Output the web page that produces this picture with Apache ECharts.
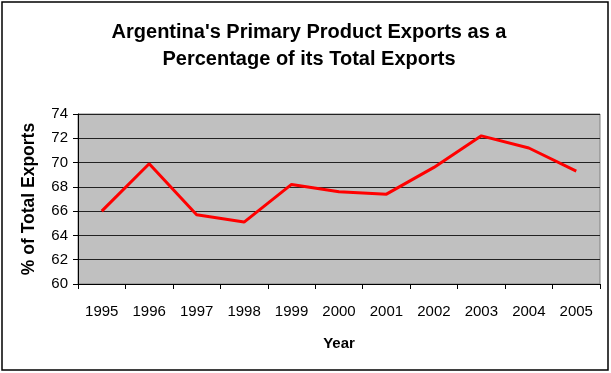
<!DOCTYPE html>
<html>
<head>
<meta charset="utf-8">
<script src="https://cdn.jsdelivr.net/npm/echarts@6/dist/echarts.min.js"></script>
<style>
    html, body { margin: 0; padding: 0; background: #fff; }
    #chart { width: 611px; height: 373px; }
</style>
</head>
<body>
<div id="chart"></div>
<script>
    // years and export share (%)
    var years = ['1995', '1996', '1997', '1998', '1999', '2000', '2001', '2002', '2003', '2004', '2005'];
    var shares = [66.0, 69.9, 65.7, 65.1, 68.2, 67.6, 67.4, 69.6, 72.2, 71.2, 69.3];

    var chart = echarts.init(document.getElementById('chart'));
    chart.setOption({
        animation: false,
        backgroundColor: '#fff',
        graphic: [{
            type: 'rect',
            shape: { x: 2, y: 2, width: 606, height: 368 },
            style: { fill: 'none', stroke: '#000', lineWidth: 1.5 }
        }],
        title: {
            text: "Argentina's Primary Product Exports as a\nPercentage of its Total Exports",
            left: 304,
            textAlign: 'center',
            top: 14,
            textStyle: {
                fontFamily: 'Liberation Sans, Arial, sans-serif',
                fontSize: 20,
                fontWeight: 'bold',
                color: '#000',
                lineHeight: 27
            }
        },
        grid: {
            left: 78,
            right: 11,
            top: 114,
            bottom: 89,
            show: true,
            backgroundColor: '#c0c0c0',
            borderColor: '#808080',
            borderWidth: 1
        },
        xAxis: {
            type: 'category',
            data: years,
            boundaryGap: true,
            name: 'Year',
            nameLocation: 'middle',
            nameGap: 52,
            nameTextStyle: {
                fontFamily: 'Liberation Sans, Arial, sans-serif',
                fontSize: 15,
                fontWeight: 'bold',
                color: '#000'
            },
            axisLine: { lineStyle: { color: '#000', width: 1 } },
            axisTick: { show: true, length: 5, lineStyle: { color: '#000' } },
            axisLabel: {
                margin: 20,
                fontFamily: 'Liberation Sans, Arial, sans-serif',
                fontSize: 15,
                color: '#000'
            }
        },
        yAxis: {
            type: 'value',
            min: 60,
            max: 74,
            interval: 2,
            name: '% of Total Exports',
            nameLocation: 'middle',
            nameGap: 40,
            nameTextStyle: {
                fontFamily: 'Liberation Sans, Arial, sans-serif',
                fontSize: 17.5,
                fontWeight: 'bold',
                color: '#000'
            },
            axisLine: { show: true, lineStyle: { color: '#000', width: 1 } },
            axisTick: { show: true, length: 5, lineStyle: { color: '#000' } },
            axisLabel: {
                margin: 10,
                fontFamily: 'Liberation Sans, Arial, sans-serif',
                fontSize: 15,
                color: '#000'
            },
            splitLine: { show: true, lineStyle: { color: '#222', width: 1 } }
        },
        series: [{
            name: 'Exports',
            type: 'line',
            data: shares,
            symbol: 'none',
            lineStyle: { color: '#ff0000', width: 3 }
        }]
    });
</script>
</body>
</html>
